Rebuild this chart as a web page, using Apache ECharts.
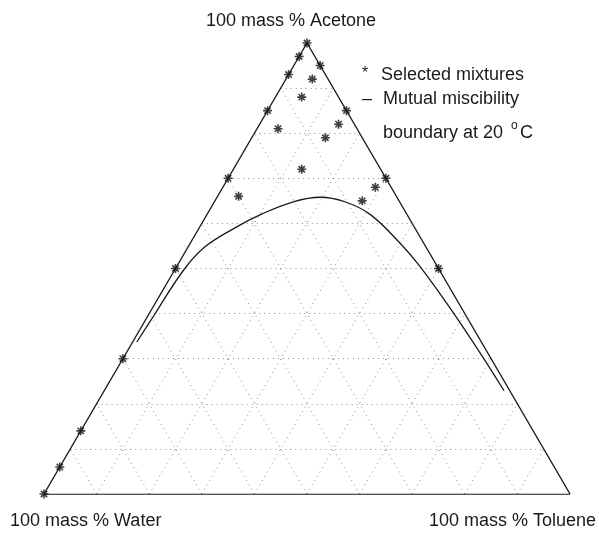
<!DOCTYPE html>
<html>
<head>
<meta charset="utf-8">
<title>Ternary diagram</title>
<script src="https://cdn.jsdelivr.net/npm/echarts@6/dist/echarts.min.js"></script>
<style>
    html, body { margin: 0; padding: 0; background: #fff; }
    #chart { width: 599px; height: 533px; }
</style>
</head>
<body>
<div id="chart"></div>
<script>
// selected mixtures, mass %
const mixWater   = [0, 3, 7, 15, 30, 50, 70, 86, 94, 100, 0, 0, 0, 0, 3, 7, 3, 15, 7, 15, 30, 3, 7];
const mixToluene = [0, 0, 0, 0, 0, 0, 0, 0, 0, 0, 5, 15, 30, 50, 5, 5, 15, 4, 14, 13, 4, 29, 28];
const mixAcetone = [100, 97, 93, 85, 70, 50, 30, 14, 6, 0, 95, 85, 70, 50, 92, 88, 82, 81, 79, 72, 66, 68, 65];

// mutual miscibility boundary at 20 C, mass %
const curveWater   = [65.5, 59.6, 48.8, 42.0, 34.2, 27.5, 20.2, 14.6, 10.4, 7.0, 4.5, 3.3, 2.3, 1.5, 1.1];
const curveToluene = [0.8, 1.1, 1.7, 3.2, 6.8, 10.4, 15.0, 19.6, 24.8, 31.0, 39.9, 46.3, 55.4, 66.3, 76.7];
const curveAcetone = [33.7, 39.3, 49.5, 54.8, 59.0, 62.1, 64.8, 65.8, 64.8, 62.0, 55.6, 50.4, 42.3, 31.9, 23.1];

const gridSteps = [10, 20, 30, 40, 50, 60, 70, 80, 90];

// ternary (water, toluene, acetone) -> x, y of the plot
function toXY(w, t, a) {
    let s = w + t + a;
    return [(t + a / 2) / s, a / s];
}

let gridLines = [];
gridSteps.forEach(k => {
    gridLines.push({coords: [toXY(100 - k, 0, k), toXY(0, 100 - k, k)]});   // acetone const
    gridLines.push({coords: [toXY(100 - k, k, 0), toXY(0, k, 100 - k)]});   // toluene const
    gridLines.push({coords: [toXY(k, 100 - k, 0), toXY(k, 0, 100 - k)]});   // water const
});

let frame = [
    {coords: [toXY(100, 0, 0), toXY(0, 100, 0)]},
    {coords: [toXY(0, 100, 0), toXY(0, 0, 100)]},
    {coords: [toXY(0, 0, 100), toXY(100, 0, 0)]}
];

let mixData = mixWater.map((w, i) => toXY(w, mixToluene[i], mixAcetone[i]));
let curveData = curveWater.map((w, i) => toXY(w, curveToluene[i], curveAcetone[i]));

const starPath = 'path://M0,5L10,5M5,0L5,10M1.5,1.5L8.5,8.5M8.5,1.5L1.5,8.5';
const font = '"Liberation Sans", Arial, sans-serif';

let myChart = echarts.init(document.getElementById('chart'));
let option = {
    animation: false,
    backgroundColor: '#fff',
    grid: {left: 44, right: 29, top: 43, bottom: 39},
    xAxis: {type: 'value', min: 0, max: 1, show: false},
    yAxis: {type: 'value', min: 0, max: 1, show: false},
    graphic: [
        {type: 'text', left: 206, top: 12, style: {text: '100 mass % Acetone', font: '18px ' + font, fill: '#1a1a1a'}},
        {type: 'text', left: 10, top: 512, style: {text: '100 mass % Water', font: '18px ' + font, fill: '#1a1a1a'}},
        {type: 'text', left: 429, top: 512, style: {text: '100 mass % Toluene', font: '18px ' + font, fill: '#1a1a1a'}},
        {type: 'text', left: 362, top: 66, style: {text: '*', font: '16px ' + font, fill: '#1a1a1a'}},
        {type: 'text', left: 381, top: 66, style: {text: 'Selected mixtures', font: '18px ' + font, fill: '#1a1a1a'}},
        {type: 'text', left: 362, top: 90, style: {text: '\u2013', font: '18px ' + font, fill: '#1a1a1a'}},
        {type: 'text', left: 383, top: 90, style: {text: 'Mutual miscibility', font: '18px ' + font, fill: '#1a1a1a'}},
        {type: 'text', left: 383, top: 124, style: {text: 'boundary at 20', font: '18px ' + font, fill: '#1a1a1a'}},
        {type: 'text', left: 511, top: 120, style: {text: 'o', font: '12px ' + font, fill: '#1a1a1a'}},
        {type: 'text', left: 520, top: 124, style: {text: 'C', font: '18px ' + font, fill: '#1a1a1a'}}
    ],
    series: [
        {
            type: 'lines',
            coordinateSystem: 'cartesian2d',
            silent: true,
            lineStyle: {color: '#8a8a8a', width: 1, type: [1, 4], opacity: 1},
            data: gridLines,
            z: 1
        },
        {
            type: 'lines',
            coordinateSystem: 'cartesian2d',
            silent: true,
            lineStyle: {color: '#1a1a1a', width: 1.4, opacity: 1},
            data: frame,
            z: 2
        },
        {
            type: 'line',
            data: curveData,
            smooth: 0.4,
            symbol: 'none',
            lineStyle: {color: '#1a1a1a', width: 1.3},
            z: 3
        },
        {
            type: 'scatter',
            data: mixData,
            symbol: starPath,
            symbolSize: 9,
            itemStyle: {color: 'rgba(0,0,0,0)', borderColor: '#111', borderWidth: 1.6},
            z: 4
        }
    ]
};
option && myChart.setOption(option);
</script>
</body>
</html>
